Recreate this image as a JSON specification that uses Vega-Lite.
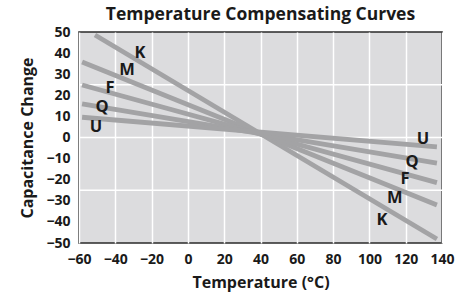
{
  "$schema": "https://vega.github.io/schema/vega-lite/v6.json",
  "width": 363,
  "height": 211,
  "autosize": "none",
  "padding": {"left": 79, "top": 32, "right": 26, "bottom": 56},
  "background": "white",
  "title": {"text": "Temperature Compensating Curves", "font": "Open Sans", "fontSize": 17.5, "fontWeight": "bold", "color": "#1a1a1a", "anchor": "middle", "offset": 2},
  "config": {
    "view": {"fill": "#dcdcde", "stroke": "#2a2a2a", "strokeWidth": 1.6},
    "axis": {"labelFont": "Open Sans", "labelFontWeight": "bold", "labelFontSize": 14, "labelColor": "#1a1a1a", "titleFont": "Open Sans", "titleFontWeight": "bold", "titleFontSize": 16, "titleColor": "#1a1a1a", "ticks": false, "domain": false, "labelOverlap": false, "labelFlush": false},
    "axisX": {"grid": true, "gridColor": "white", "gridWidth": 1.5, "gridOpacity": 1, "labelPadding": 9, "titlePadding": 8},
    "axisY": {"grid": false, "labelPadding": 9, "titlePadding": 10}
  },
  "datasets": {
    "curves": [
      {"series": "K", "temp": -51.2, "cap": 48.6},
      {"series": "K", "temp": 137.2, "cap": -48.1},
      {"series": "M", "temp": -58.3, "cap": 35.8},
      {"series": "M", "temp": 137.2, "cap": -32.0},
      {"series": "F", "temp": -58.3, "cap": 24.9},
      {"series": "F", "temp": 137.2, "cap": -21.4},
      {"series": "Q", "temp": -58.3, "cap": 15.9},
      {"series": "Q", "temp": 137.2, "cap": -12.1},
      {"series": "U", "temp": -58.3, "cap": 9.6},
      {"series": "U", "temp": 137.2, "cap": -4.4}
    ],
    "labels": [
      {"label": "K", "temp": -26.4, "cap": 40},
      {"label": "M", "temp": -33.6, "cap": 32},
      {"label": "F", "temp": -42.9, "cap": 23.5},
      {"label": "Q", "temp": -47.3, "cap": 14.3},
      {"label": "U", "temp": -50.6, "cap": 5.0},
      {"label": "U", "temp": 129.5, "cap": -0.7},
      {"label": "Q", "temp": 123.5, "cap": -11.4},
      {"label": "F", "temp": 119.6, "cap": -19.9},
      {"label": "M", "temp": 114, "cap": -28.9},
      {"label": "K", "temp": 107, "cap": -39}
    ]
  },
  "layer": [
    {
      "data": {"values": [{"g": -25}, {"g": 0}, {"g": 25}]},
      "mark": {"type": "rule", "color": "white", "strokeWidth": 1.5},
      "encoding": {"y": {"field": "g", "type": "quantitative", "scale": {"domain": [-50, 50], "nice": false},
              "axis": {"values": [-50, -40, -30, -20, -10, 0, 10, 20, 30, 40, 50], "labelOverlap": false, "title": "Capacitance Change"}}}
    },
    {
      "data": {"name": "curves"},
      "mark": {"type": "line", "color": "#a3a3a5", "strokeWidth": 4.8},
      "encoding": {
        "x": {"field": "temp", "type": "quantitative", "scale": {"domain": [-60, 140], "nice": false, "zero": false},
              "axis": {"values": [-60, -40, -20, 0, 20, 40, 60, 80, 100, 120, 140], "labelOverlap": false, "title": "Temperature (°C)"}},
        "y": {"field": "cap", "type": "quantitative", "scale": {"domain": [-50, 50], "nice": false},
              "axis": {"values": [-50, -40, -30, -20, -10, 0, 10, 20, 30, 40, 50], "labelOverlap": false, "title": "Capacitance Change"}},
        "detail": {"field": "series"}
      }
    },
    {
      "data": {"name": "labels"},
      "mark": {"type": "text", "font": "Open Sans", "fontWeight": "bold", "fontSize": 16.5, "color": "#1a1a1a"},
      "encoding": {
        "x": {"field": "temp", "type": "quantitative",
              "axis": {"values": [-60, -40, -20, 0, 20, 40, 60, 80, 100, 120, 140], "labelOverlap": false, "title": "Temperature (°C)"}},
        "y": {"field": "cap", "type": "quantitative",
              "axis": {"values": [-50, -40, -30, -20, -10, 0, 10, 20, 30, 40, 50], "labelOverlap": false, "title": "Capacitance Change"}},
        "text": {"field": "label"}
      }
    }
  ]
}
